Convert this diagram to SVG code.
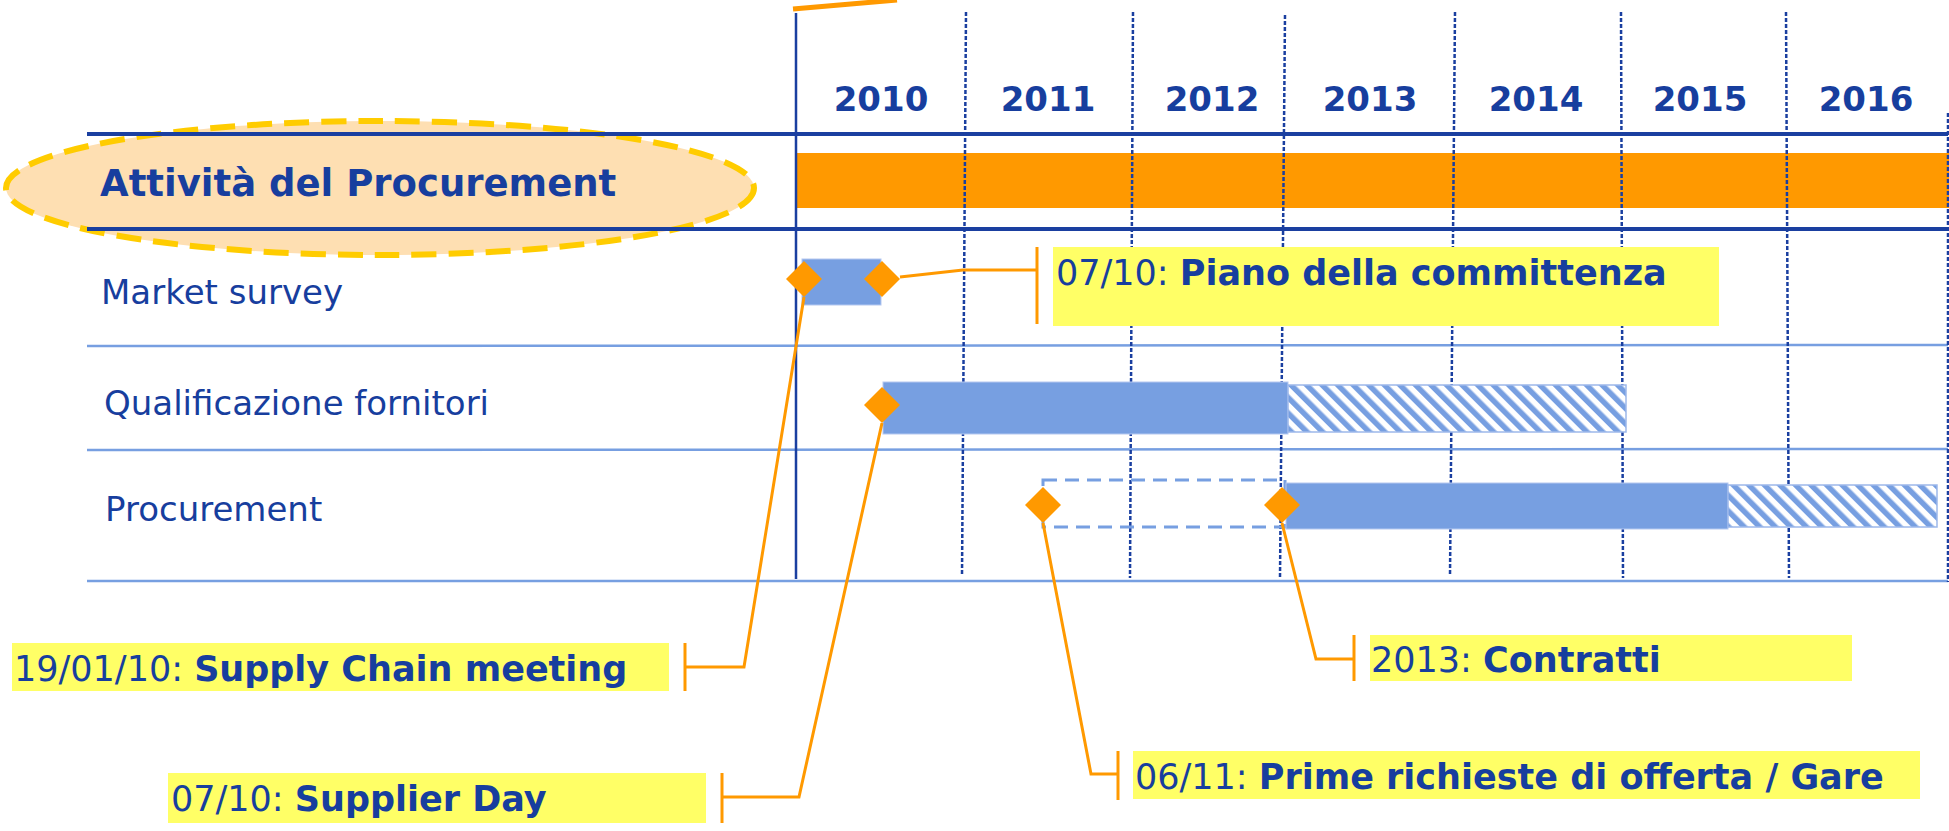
<svg xmlns="http://www.w3.org/2000/svg" width="1949" height="831" viewBox="0 0 1949 831">
<defs>
<pattern id="hatch" patternUnits="userSpaceOnUse" width="11" height="11" patternTransform="rotate(-45)">
<rect x="0" y="0" width="11" height="11" fill="#ffffff"/>
<rect x="0" y="0" width="5.5" height="11" fill="#779FE1"/>
</pattern>
<style>
.t{font-family:"DejaVu Sans","Liberation Sans",sans-serif;fill:#173E9E}
.b{font-weight:bold}
.yr{font-family:"DejaVu Sans","Liberation Sans",sans-serif;font-weight:bold;font-size:34px;fill:#173E9E;text-anchor:middle}
.row{font-size:34px}
.cl{font-size:35px}
.grid{stroke:#1A3FA0;stroke-width:2.5;stroke-dasharray:4 2;fill:none}
.hdr{stroke:#1A3FA0;stroke-width:4}
.sep{stroke:#779FE1;stroke-width:2.5}
.bar{fill:#779FE1;stroke:#B5C8F0;stroke-width:1}
.hbar{fill:url(#hatch);stroke:#9DB8EA;stroke-width:1.5}
.ms{fill:#FF9900}
.con{stroke:#FF9900;stroke-width:3;fill:none}
.lab{fill:#FFFF66}
</style>
</defs>
<g id="background">
<line x1="793" y1="9" x2="897" y2="0" stroke="#FF9900" stroke-width="5"/>
<ellipse id="title-ellipse" cx="380" cy="188" rx="374" ry="67" fill="#FEDFB2" stroke="#FFCC00" stroke-width="6" stroke-dasharray="25 12"/>
<line class="hdr" x1="87" y1="134" x2="1948" y2="134"/>
<rect x="796" y="153" width="1153" height="55" fill="#FF9900"/>
<line class="hdr" x1="87" y1="229" x2="1948" y2="229"/>
<line class="sep" x1="87" y1="346" x2="1948" y2="345"/>
<line class="sep" x1="87" y1="450" x2="1948" y2="449"/>
<line class="sep" x1="87" y1="581" x2="1948" y2="581"/>
<line x1="796" y1="13" x2="796" y2="579" stroke="#1A3FA0" stroke-width="2.5"/>
<line class="grid" x1="966" y1="12" x2="962" y2="576"/>
<line class="grid" x1="1133" y1="12" x2="1130" y2="578"/>
<line class="grid" x1="1285" y1="15" x2="1280" y2="578"/>
<line class="grid" x1="1455" y1="12" x2="1450" y2="576"/>
<line class="grid" x1="1621" y1="12" x2="1623" y2="578"/>
<line class="grid" x1="1786" y1="12" x2="1789" y2="578"/>
<line class="grid" x1="1948" y1="113" x2="1948" y2="582"/>
</g>
<g id="years">
<text class="yr" x="881" y="111">2010</text>
<text class="yr" x="1048" y="111">2011</text>
<text class="yr" x="1212" y="111">2012</text>
<text class="yr" x="1370" y="111">2013</text>
<text class="yr" x="1536" y="111">2014</text>
<text class="yr" x="1700" y="111">2015</text>
<text class="yr" x="1866" y="111">2016</text>
</g>
<g id="title">
<text class="t b" x="100" y="196" font-size="37">Attività del Procurement</text>
</g>
<g id="row-market-survey">
<text class="t row" x="101" y="304">Market survey</text>
<rect class="bar" x="802" y="259" width="79" height="46"/>
</g>
<g id="row-qualificazione">
<text class="t row" x="104" y="415">Qualificazione fornitori</text>
<rect class="bar" x="883" y="382" width="405" height="52"/>
<rect class="hbar" x="1288" y="385" width="338" height="47"/>
</g>
<g id="row-procurement">
<text class="t row" x="105" y="521">Procurement</text>
<rect x="1043" y="480" width="242" height="47" fill="none" stroke="#779FE1" stroke-width="3" stroke-dasharray="14 8"/>
<rect class="bar" x="1286" y="483" width="442" height="46"/>
<rect class="hbar" x="1728" y="485" width="209" height="42"/>
</g>
<g id="connectors">
<polyline class="con" points="900,277 963,270 1037,270"/>
<line class="con" x1="1037" y1="247" x2="1037" y2="324"/>
<polyline class="con" points="804,297 744,667 685,667"/>
<line class="con" x1="685" y1="643" x2="685" y2="691"/>
<polyline class="con" points="882,423 799,797 722,797"/>
<line class="con" x1="722" y1="773" x2="722" y2="823"/>
<polyline class="con" points="1043,523 1091,774 1118,774"/>
<line class="con" x1="1118" y1="751" x2="1118" y2="800"/>
<polyline class="con" points="1282,523 1316,659 1354,659"/>
<line class="con" x1="1354" y1="635" x2="1354" y2="681"/>
</g>
<g id="milestones">
<polygon class="ms" points="804,261 822,279 804,297 786,279"/>
<polygon class="ms" points="882,261 900,279 882,297 864,279"/>
<polygon class="ms" points="882,387 900,405 882,423 864,405"/>
<polygon class="ms" points="1043,487 1061,505 1043,523 1025,505"/>
<polygon class="ms" points="1282,487 1300,505 1282,523 1264,505"/>
</g>
<g id="label-piano">
<rect class="lab" x="1053" y="247" width="666" height="79"/>
<text class="t cl" x="1056" y="285">07/10: <tspan class="b">Piano della committenza</tspan></text>
</g>
<g id="label-supply-chain">
<rect class="lab" x="12" y="643" width="657" height="48"/>
<text class="t cl" x="14" y="681">19/01/10: <tspan class="b">Supply Chain meeting</tspan></text>
</g>
<g id="label-supplier-day">
<rect class="lab" x="168" y="773" width="538" height="50"/>
<text class="t cl" x="171" y="811">07/10: <tspan class="b">Supplier Day</tspan></text>
</g>
<g id="label-prime">
<rect class="lab" x="1133" y="751" width="787" height="48"/>
<text class="t cl" x="1135" y="789">06/11: <tspan class="b">Prime richieste di offerta / Gare</tspan></text>
</g>
<g id="label-contratti">
<rect class="lab" x="1370" y="635" width="482" height="46"/>
<text class="t cl" x="1371" y="672">2013: <tspan class="b">Contratti</tspan></text>
</g>
</svg>
